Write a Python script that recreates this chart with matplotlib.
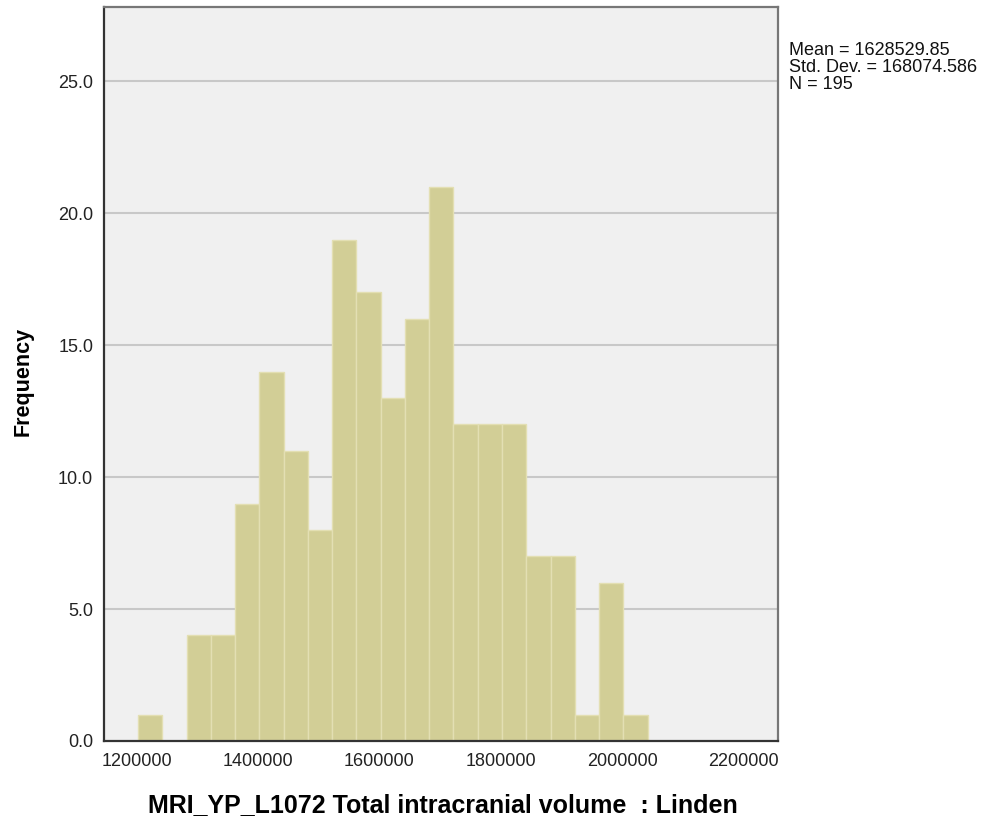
import matplotlib
matplotlib.use("Agg")
import matplotlib.pyplot as plt
import numpy as np

# Data
counts = [1, 0, 4, 4, 9, 14, 11, 8, 19, 17, 13, 16, 21, 12, 12, 12, 7, 7, 1, 6, 1]
bin_start = 1202000
bin_width = 40000
x_ticks = [1200000, 1400000, 1600000, 1800000, 2000000, 2200000]
y_ticks = [0, 5, 10, 15, 20, 25]
stats_text = "Mean = 1628529.85\nStd. Dev. = 168074.586\nN = 195"
xlabel = "MRI_YP_L1072 Total intracranial volume  : Linden"
ylabel = "Frequency"

plt.rcParams['font.family'] = ['Liberation Sans', 'DejaVu Sans']

fig = plt.figure(figsize=(9.84, 8.27), dpi=100)
ax = fig.add_axes([0.106, 0.104, 0.6847, 0.887])
ax.set_facecolor('#f0f0f0')

lefts = bin_start + bin_width * np.arange(len(counts))
ax.bar(lefts, counts, width=bin_width, align='edge', color='#d2ce96',
       edgecolor='#e3dfb3', linewidth=1.0, zorder=3)

ax.set_xlim(1146500, 2257000)
ax.set_ylim(0, 27.8)
ax.set_xticks(x_ticks)
ax.set_xticklabels([str(v) for v in x_ticks])
ax.set_yticks(y_ticks)
ax.set_yticklabels([f"{v:.1f}" for v in y_ticks])
for v in y_ticks[1:]:
    ax.axhline(v, color='#c8c8c8', linewidth=1.5, zorder=1)

ax.tick_params(axis='both', length=0, labelsize=13, colors='#222222', pad=8)
ax.tick_params(axis='x', pad=9)

for side in ['left', 'bottom']:
    ax.spines[side].set_color('#333333')
    ax.spines[side].set_linewidth(1.6)
for side in ['top', 'right']:
    ax.spines[side].set_color('#777777')
    ax.spines[side].set_linewidth(1.6)
for s in ax.spines.values():
    s.set_zorder(4)

fig.text(443/984, 1 - 805/827, xlabel, fontsize=18, fontweight='bold',
         ha='center', va='center')
fig.text(23/984, 1 - 381/827, ylabel, fontsize=15.5, fontweight='bold',
         ha='center', va='center', rotation=90)

fig.text(789/984, 1 - 42/827, stats_text, fontsize=13, va='top', ha='left',
         linespacing=1.0, color='#111111')

fig.savefig('out.png', dpi=100)
